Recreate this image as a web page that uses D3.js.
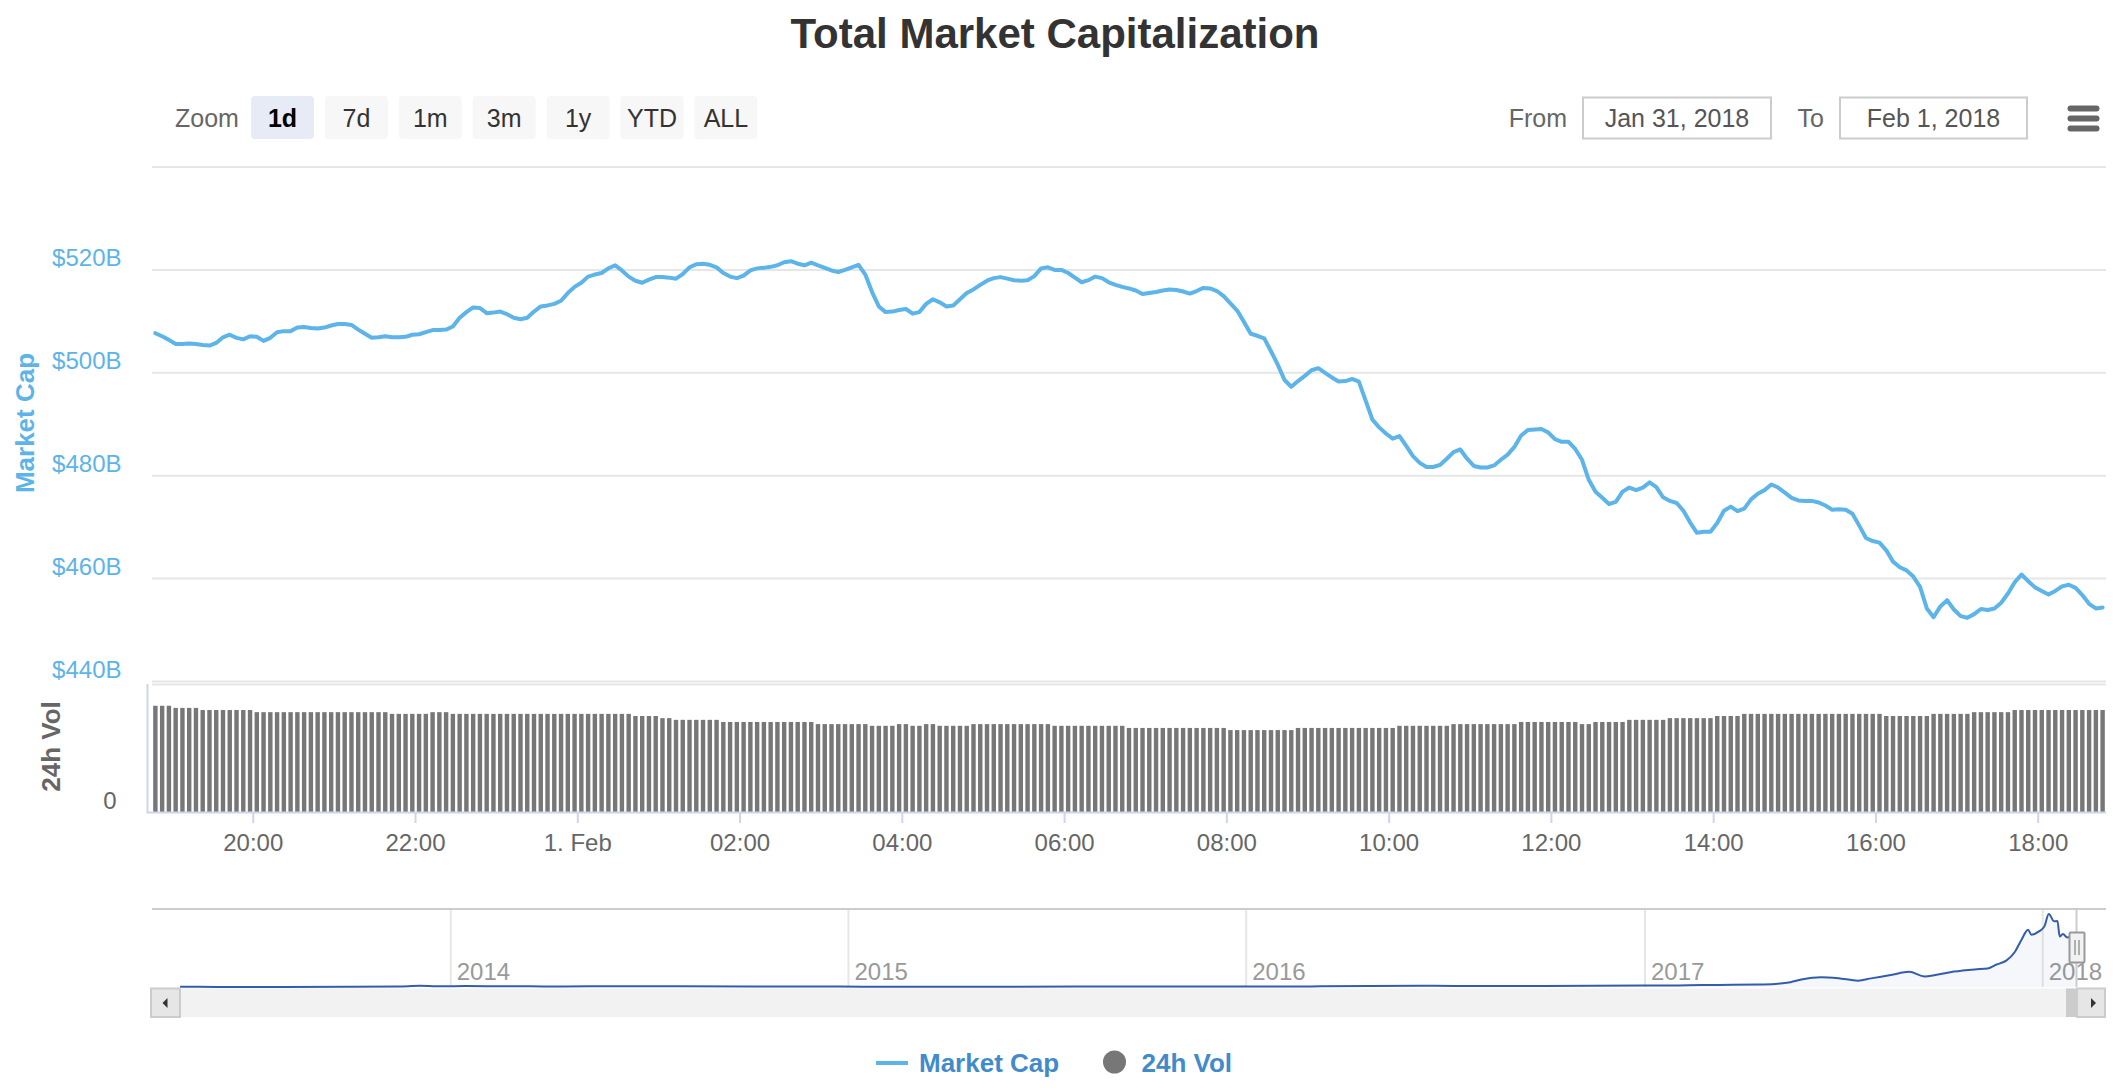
<!DOCTYPE html>
<html><head><meta charset="utf-8">
<script src="https://cdn.jsdelivr.net/npm/d3@7"></script>
<style>
body{margin:0;background:#fff;}
svg{display:block;font-family:"Liberation Sans",Arial,Helvetica,sans-serif;}
</style></head><body>
<svg id="c" width="2124" height="1090"></svg>
<script>
// ---------------- DATA ----------------
const title = "Total Market Capitalization";
const zoomButtons = ["1d","7d","1m","3m","1y","YTD","ALL"];
const selectedButton = "1d";
const fromDate = "Jan 31, 2018";
const toDate = "Feb 1, 2018";
const seriesNames = ["Market Cap","24h Vol"];
const startTime = "2018-01-31T18:48:00Z";
const stepMinutes = 5;
// Market cap, billions USD (5-minute points)
const marketCap = [
507.6,507.0,506.3,505.5,505.5,505.6,505.5,505.3,505.2,505.7,
506.8,507.3,506.7,506.4,507.0,506.9,506.1,506.7,507.8,508.0,
508.0,508.7,508.8,508.6,508.5,508.7,509.1,509.4,509.4,509.2,
508.3,507.5,506.7,506.8,507.0,506.8,506.8,506.9,507.3,507.4,
507.8,508.2,508.2,508.3,508.9,510.6,511.7,512.6,512.5,511.5,
511.6,511.8,511.3,510.6,510.3,510.6,511.8,512.8,513.0,513.3,
513.9,515.4,516.6,517.4,518.6,519.0,519.3,520.2,520.8,519.8,
518.6,517.8,517.4,518.0,518.5,518.5,518.4,518.2,519.1,520.4,
521.0,521.1,520.9,520.4,519.3,518.6,518.3,518.8,519.8,520.2,
520.3,520.5,520.8,521.4,521.6,521.1,520.8,521.3,520.8,520.3,
519.8,519.5,519.9,520.4,520.9,519.0,515.6,512.8,511.7,511.8,
512.1,512.3,511.4,511.7,513.3,514.2,513.6,512.8,513.0,514.2,
515.4,516.1,517.0,517.8,518.3,518.5,518.2,517.9,517.8,517.9,
518.7,520.2,520.4,519.9,519.9,519.3,518.4,517.5,517.9,518.6,
518.3,517.5,517.0,516.6,516.3,515.9,515.2,515.4,515.6,515.9,
516.1,516.0,515.7,515.3,515.8,516.4,516.3,515.8,514.8,513.4,
512.0,509.8,507.5,507.1,506.6,504.1,501.5,498.5,497.2,498.3,
499.3,500.4,500.8,499.9,499.0,498.2,498.3,498.7,498.2,494.5,
490.8,489.3,488.1,487.1,487.6,485.7,483.7,482.4,481.6,481.6,
482.0,483.2,484.5,485.0,483.2,481.8,481.5,481.5,481.9,483.0,
484.0,485.5,487.7,488.8,488.9,489.0,488.3,487.0,486.5,486.5,
485.1,483.0,479.1,476.8,475.6,474.4,474.8,476.8,477.6,477.1,
477.6,478.6,477.7,475.7,475.0,474.6,473.1,470.8,468.8,469.0,
469.0,470.7,473.1,473.9,473.0,473.5,475.3,476.4,477.1,478.2,
477.6,476.6,475.6,475.1,475.0,475.0,474.7,474.1,473.3,473.4,
473.3,472.5,470.2,467.8,467.2,466.9,465.4,463.2,462.1,461.5,
460.3,458.3,454.1,452.4,454.5,455.7,453.9,452.6,452.3,453.0,
454.0,453.8,454.1,455.2,457.0,459.2,460.7,459.4,458.2,457.5,
456.8,457.5,458.4,458.7,458.1,456.7,455.0,454.1,454.3
];
// 24h volume, billions USD
const volume24h = [
24.9,24.9,24.9,24.4,24.4,24.4,24.4,23.9,23.9,23.9,
23.9,23.9,23.9,23.9,23.9,23.4,23.4,23.4,23.4,23.4,
23.4,23.4,23.4,23.4,23.4,23.4,23.4,23.4,23.4,23.4,
23.4,23.4,23.4,23.4,23.4,23.0,23.0,23.0,23.0,23.0,
23.0,23.4,23.4,23.4,23.0,23.0,23.0,23.0,23.0,23.0,
23.0,23.0,23.0,23.0,23.0,23.0,23.0,23.0,23.0,23.0,
23.0,23.0,23.0,23.0,23.0,23.0,23.0,23.0,23.0,23.0,
23.0,22.5,22.5,22.5,22.5,22.0,22.0,21.6,21.6,21.6,
21.6,21.6,21.6,21.6,21.1,21.1,21.1,21.1,21.1,21.1,
21.1,21.1,21.1,21.1,21.1,21.1,21.1,21.1,20.6,20.6,
20.6,20.6,20.6,20.6,20.6,20.6,20.2,20.2,20.2,20.2,
20.6,20.6,20.2,20.2,20.6,20.6,20.2,20.2,20.2,20.2,
20.2,20.6,20.6,20.6,20.6,20.6,20.6,20.6,20.6,20.6,
20.6,20.6,20.6,20.2,20.2,20.2,20.2,20.2,20.2,20.2,
20.2,20.2,20.2,20.2,19.7,19.7,19.7,19.7,19.7,19.7,
19.7,19.7,19.7,19.7,19.7,19.7,19.7,19.7,19.7,19.2,
19.2,19.2,19.2,19.2,19.2,19.2,19.2,19.2,19.2,19.7,
19.7,19.7,19.7,19.7,19.7,19.7,19.7,19.7,19.7,19.7,
19.7,19.7,19.7,19.7,20.2,20.2,20.2,20.2,20.2,20.2,
20.2,20.2,20.6,20.6,20.6,20.6,20.6,20.6,20.6,20.6,
20.6,20.6,21.1,21.1,21.1,21.1,21.1,21.1,21.1,21.1,
21.1,20.6,20.6,21.1,21.1,21.1,21.1,21.1,21.6,21.6,
21.6,21.6,21.6,21.6,22.0,22.0,22.0,22.0,22.0,22.0,
22.0,22.5,22.5,22.5,22.5,23.0,23.0,23.0,23.0,23.0,
23.0,23.0,23.0,23.0,23.0,23.0,23.0,23.0,23.0,23.0,
23.0,23.0,23.0,23.0,23.0,23.0,22.5,22.5,22.5,22.5,
22.5,22.5,22.5,23.0,23.0,23.0,23.0,23.0,23.0,23.4,
23.4,23.4,23.4,23.4,23.4,23.9,23.9,23.9,23.9,23.9,
23.9,23.9,23.9,23.9,23.9,23.9,23.9,23.9,23.9
];
const mcapTicks = [440,460,480,500,520,540];
const volMax = 30;
// Navigator (full history) market cap, billions USD
const navDates = ["2013-04-28","2013-06-01","2013-08-01","2013-10-01","2013-11-15","2013-12-04","2013-12-20",
"2014-01-15","2014-02-15","2014-03-15","2014-04-15","2014-06-01","2014-08-01","2014-10-01","2014-12-01",
"2015-01-15","2015-03-01","2015-06-01","2015-08-01","2015-11-04",
"2016-01-01","2016-03-01","2016-06-17","2016-08-01","2016-10-01","2016-12-31",
"2017-02-01","2017-03-10","2017-04-15","2017-05-01","2017-05-15","2017-05-25","2017-06-12","2017-06-28",
"2017-07-16","2017-07-28","2017-08-15","2017-09-01","2017-09-15","2017-09-25","2017-10-12","2017-10-31",
"2017-11-12","2017-11-20","2017-11-29","2017-12-07","2017-12-13","2017-12-19","2017-12-22","2017-12-29",
"2018-01-03","2018-01-07","2018-01-12","2018-01-15","2018-01-17","2018-01-20","2018-01-24","2018-01-28","2018-02-01"];
const navValues = [1.6,1.4,1.3,1.7,6,14,8,
11,8,7.5,6,8.5,8,5.5,5.5,
3.5,4,3.5,4.3,6.5,
7,7,13,10,11,17.7,
18,24,28,35,55,85,112,100,
72,98,135,172,120,135,175,200,
210,255,300,400,537,650,594,631,
688,830,745,750,574,601,563,570,510];

// ---------------- STYLE ----------------
const lineColor = "#5db4e8";
const volColor = "#777777";
const legendColor = "#428bca";
const FONT = '"Liberation Sans",Arial,Helvetica,sans-serif';

// ---------------- LAYOUT ----------------
const svg = d3.select("#c");
const plotL = 152, plotR = 2106;
const mainTop = 166.5, mainBottom = 681;
const volTop = 684, volBottom = 812;

// Title
svg.append("text").attr("x",1055).attr("y",48).attr("text-anchor","middle")
  .attr("font-size",42).attr("font-weight","bold").attr("fill","#333").text(title);

// Range selector
svg.append("text").attr("x",175).attr("y",126.5).attr("font-size",25).attr("fill","#666").text("Zoom");
const btn = svg.append("g").selectAll("g").data(zoomButtons).join("g")
  .attr("transform",(d,i)=>`translate(${251+i*73.9},96)`);
btn.append("rect").attr("width",63).attr("height",43).attr("rx",4)
  .attr("fill",d=>d===selectedButton?"#e6ebf5":"#f7f7f7");
btn.append("text").attr("x",31.5).attr("y",30.5).attr("text-anchor","middle").attr("font-size",25)
  .attr("font-weight",d=>d===selectedButton?"bold":"normal")
  .attr("fill",d=>d===selectedButton?"#000":"#333").text(d=>d);

svg.append("text").attr("x",1567).attr("y",126.5).attr("text-anchor","end").attr("font-size",25).attr("fill","#666").text("From");
svg.append("rect").attr("x",1583).attr("y",97.5).attr("width",188).attr("height",41)
  .attr("fill","#fff").attr("stroke","#ccc").attr("stroke-width",2);
svg.append("text").attr("x",1677).attr("y",126.5).attr("text-anchor","middle").attr("font-size",25).attr("fill","#555").text(fromDate);
svg.append("text").attr("x",1824).attr("y",126.5).attr("text-anchor","end").attr("font-size",25).attr("fill","#666").text("To");
svg.append("rect").attr("x",1840).attr("y",97.5).attr("width",187).attr("height",41)
  .attr("fill","#fff").attr("stroke","#ccc").attr("stroke-width",2);
svg.append("text").attr("x",1933.5).attr("y",126.5).attr("text-anchor","middle").attr("font-size",25).attr("fill","#555").text(toDate);

// Context menu (hamburger)
[108.5,118.5,128.5].forEach(yy=>{
  svg.append("line").attr("x1",2070.5).attr("x2",2096.5).attr("y1",yy).attr("y2",yy)
    .attr("stroke","#666").attr("stroke-width",6).attr("stroke-linecap","round");
});

// ---------------- SCALES ----------------
const t0 = d3.isoParse(startTime);
const times = marketCap.map((_,i)=>d3.utcMinute.offset(t0, i*stepMinutes));
const x = d3.scaleUtc()
  .domain([d3.utcSecond.offset(times[0],-stepMinutes*30), d3.utcSecond.offset(times[times.length-1],stepMinutes*30)])
  .range([plotL, plotR]);
const y = d3.scaleLinear().domain([mcapTicks[0], mcapTicks[mcapTicks.length-1]]).range([mainBottom, mainTop]);
const yv = d3.scaleLinear().domain([0, volMax]).range([volBottom, volTop]);

// Grid lines (main pane)
const gridG = svg.append("g").attr("transform",`translate(${plotL},0)`)
  .call(d3.axisLeft(y).tickValues(mcapTicks).tickSize(-(plotR-plotL)).tickFormat(""));
gridG.select(".domain").remove();
gridG.selectAll("line").attr("stroke","#e6e6e6").attr("stroke-width",2);

// Volume pane top grid line
const vGrid = svg.append("g").attr("transform",`translate(${plotL},0)`)
  .call(d3.axisLeft(yv).tickValues([volMax]).tickSize(-(plotR-plotL)).tickFormat(""));
vGrid.select(".domain").remove();
vGrid.selectAll("line").attr("stroke","#e6e6e6").attr("stroke-width",2);

// Y labels main
const yLab = svg.append("g").attr("transform","translate(121.5,0)")
  .call(d3.axisLeft(y).tickValues(mcapTicks.slice(0,-1)).tickSize(0).tickPadding(0).tickFormat(d=>"$"+d+"B"));
yLab.attr("font-family",FONT).attr("font-size",24);
yLab.select(".domain").remove();
yLab.selectAll("text").attr("x",0).attr("dy",null).attr("y",-4).attr("fill",lineColor);

// Y label volume
const vLab = svg.append("g").attr("transform","translate(116.5,0)")
  .call(d3.axisLeft(yv).tickValues([0]).tickSize(0).tickPadding(0));
vLab.attr("font-family",FONT).attr("font-size",24);
vLab.select(".domain").remove();
vLab.selectAll("text").attr("x",0).attr("dy",null).attr("y",-4).attr("fill","#666");

// Axis titles
svg.append("text").attr("transform","translate(34,423) rotate(-90)").attr("text-anchor","middle")
  .attr("font-size",26).attr("font-weight","bold").attr("fill",lineColor).text(seriesNames[0]);
svg.append("text").attr("transform","translate(60,746.5) rotate(-90)").attr("text-anchor","middle")
  .attr("font-size",26).attr("font-weight","bold").attr("fill","#666").text(seriesNames[1]);

// Volume bars
svg.append("g").selectAll("rect").data(volume24h).join("rect")
  .attr("x",(d,i)=>x(times[i])-2.2).attr("width",4.4)
  .attr("y",d=>yv(d)).attr("height",d=>yv(0)-yv(d)).attr("fill",volColor);

// Volume axis line + x axis
svg.append("line").attr("x1",147.5).attr("x2",147.5).attr("y1",volTop).attr("y2",volBottom+1)
  .attr("stroke","#ccd6eb").attr("stroke-width",2);
svg.append("line").attr("x1",146.5).attr("x2",plotR).attr("y1",volBottom+0.5).attr("y2",volBottom+0.5)
  .attr("stroke","#ccd6eb").attr("stroke-width",2);

const fmtTick = d => (d.getUTCHours()===0 && d.getUTCMinutes()===0) ? d3.utcFormat("%-d. %b")(d) : d3.utcFormat("%H:%M")(d);
const xAxisG = svg.append("g").attr("transform",`translate(0,${volBottom+1})`)
  .call(d3.axisBottom(x).ticks(d3.utcHour.every(2)).tickFormat(fmtTick).tickSize(10).tickPadding(0));
xAxisG.attr("font-family",FONT).attr("font-size",24);
xAxisG.select(".domain").remove();
xAxisG.selectAll(".tick line").attr("stroke","#ccd6eb").attr("stroke-width",2);
xAxisG.selectAll(".tick text").attr("y",38).attr("dy",null).attr("fill","#666");

// Market cap line
svg.append("path").datum(marketCap)
  .attr("d", d3.line().x((d,i)=>x(times[i])).y(d=>y(d)))
  .attr("fill","none").attr("stroke",lineColor).attr("stroke-width",4)
  .attr("stroke-linejoin","round").attr("stroke-linecap","round");

// ---------------- NAVIGATOR ----------------
const navTop = 909, navBottom = 987;
const navL = 180, navR = 2076;
const navT = navDates.map(d=>d3.utcParse("%Y-%m-%d")(d));
const xn = d3.scaleUtc().domain([navT[0], navT[navT.length-1]]).range([navL, navR]);
const yn = d3.scaleLinear().domain([0, 840]).range([navBottom, navTop+4]);

const navAxis = svg.append("g").attr("transform",`translate(0,${navBottom})`)
  .call(d3.axisTop(xn).ticks(d3.utcYear.every(1)).tickFormat(d3.utcFormat("%Y")).tickSize(navBottom-navTop).tickPadding(0));
navAxis.attr("font-family",FONT).attr("font-size",24);
navAxis.select(".domain").remove();
navAxis.selectAll(".tick line").attr("stroke","#e6e6e6").attr("stroke-width",2);
navAxis.selectAll(".tick text").attr("text-anchor","start").attr("x",6).attr("y",-7).attr("dy",null).attr("fill","#999");

svg.append("path").datum(navValues)
  .attr("d", d3.area().curve(d3.curveMonotoneX).x((d,i)=>xn(navT[i])).y0(navBottom).y1(d=>yn(d)))
  .attr("fill","#335cad").attr("fill-opacity",0.05);
svg.append("path").datum(navValues)
  .attr("d", d3.line().curve(d3.curveMonotoneX).x((d,i)=>xn(navT[i])).y(d=>yn(d)))
  .attr("fill","none").attr("stroke","#335cad").attr("stroke-width",2);

// outline
svg.append("line").attr("x1",plotL).attr("x2",plotR).attr("y1",navTop).attr("y2",navTop)
  .attr("stroke","#ccc").attr("stroke-width",2);
svg.append("line").attr("x1",navR+0.5).attr("x2",navR+0.5).attr("y1",navTop).attr("y2",navBottom)
  .attr("stroke","#ccc").attr("stroke-width",2);

// handle
svg.append("rect").attr("x",2069.5).attr("y",932.5).attr("width",15).attr("height",30).attr("rx",1)
  .attr("fill","#f2f2f2").attr("stroke","#999").attr("stroke-width",2);
[2075,2079].forEach(xx=>svg.append("line").attr("x1",xx).attr("x2",xx).attr("y1",940).attr("y2",955)
  .attr("stroke","#999").attr("stroke-width",1.5));

// scrollbar
svg.append("rect").attr("x",180).attr("y",988.5).attr("width",1897).attr("height",28.5).attr("fill","#f2f2f2");
svg.append("rect").attr("x",2066).attr("y",988.5).attr("width",11).attr("height",28.5).attr("fill","#cccccc");
svg.append("rect").attr("x",151).attr("y",988.5).attr("width",29).attr("height",28.5)
  .attr("fill","#e6e6e6").attr("stroke","#ccc").attr("stroke-width",2);
svg.append("path").attr("d","M162.5,1003 L167.5,998 L167.5,1008 Z").attr("fill","#333");
svg.append("rect").attr("x",2077).attr("y",988.5).attr("width",28).attr("height",28.5)
  .attr("fill","#e6e6e6").attr("stroke","#ccc").attr("stroke-width",2);
svg.append("path").attr("d","M2096,1003 L2091,998 L2091,1008 Z").attr("fill","#333");

// ---------------- LEGEND ----------------
svg.append("line").attr("x1",876).attr("x2",908).attr("y1",1063).attr("y2",1063)
  .attr("stroke",lineColor).attr("stroke-width",4);
svg.append("text").attr("x",919).attr("y",1072).attr("font-size",26).attr("font-weight","bold")
  .attr("fill",legendColor).text(seriesNames[0]);
svg.append("circle").attr("cx",1114.5).attr("cy",1062).attr("r",11.5).attr("fill",volColor);
svg.append("text").attr("x",1141.5).attr("y",1072).attr("font-size",26).attr("font-weight","bold")
  .attr("fill",legendColor).text(seriesNames[1]);
</script>
</body></html>
